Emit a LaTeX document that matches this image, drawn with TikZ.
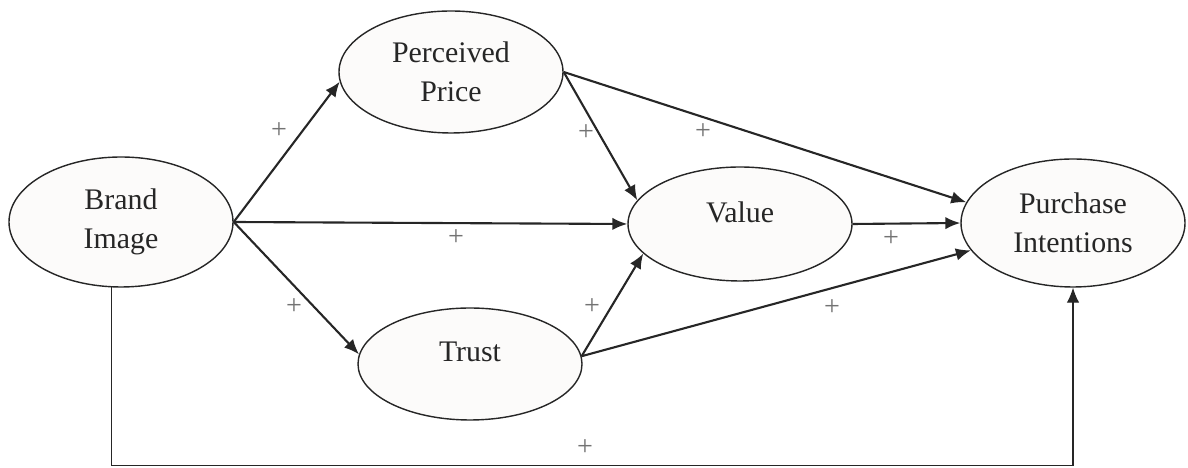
\documentclass[tikz,border=0pt]{standalone}
\usepackage{fontspec}
\setmainfont{Liberation Serif}
\usetikzlibrary{arrows.meta,shapes.geometric}
\definecolor{paper}{HTML}{FCFBFA}
\definecolor{ink}{HTML}{262626}
\tikzset{
  latent/.style={
    ellipse, draw=ink, line width=0.8pt, fill=paper,
    minimum width=4.48cm, inner sep=0pt, align=center, text=ink,
    font=\fontsize{17}{22}\selectfont
  },
  path/.style={->, draw=ink, line width=1.2pt},
  plus/.style={text=black!55, font=\fontsize{16}{16}\selectfont, inner sep=0pt}
}

\begin{document}
\begin{tikzpicture}[>={Latex[length=3mm,width=2.5mm]}]
\useasboundingbox (0,0) rectangle (23.76,9.36);

% --- Constructs ---
\node[latent, minimum height=2.6cm] (brand) at (2.42,4.92) {Brand\\Image};
\node[latent, minimum height=2.44cm] (price) at (9.02,7.92) {Perceived\\Price};
\node[latent, minimum height=2.28cm, label={[yshift=0.24cm, text=ink, font=\fontsize{17}{22}\selectfont]center:Value}] (value) at (14.80,4.88) {};
\node[latent, minimum height=2.56cm] (purchase) at (21.46,4.90) {Purchase\\Intentions};
\node[latent, minimum height=2.24cm, label={[yshift=0.24cm, text=ink, font=\fontsize{17}{22}\selectfont]center:Trust}] (trust) at (9.40,2.08) {};

% --- Paths ---
\draw[path] (brand.east) -- (price.185);
\draw[path] (brand.east) -- (value.west);
\draw[path] (brand.east) -- (trust.175);
\draw[path] (price.east) -- (value.167);
\draw[path] (price.east) -- (purchase.169);
\draw[path] (value.east) -- (purchase.west);
\draw[path] (trust.4) -- (value.197);
\draw[path] (trust.4) -- (purchase.195);

% direct path along the bottom
\coordinate (floor) at (0,0.05);
\draw[->, draw=ink, line width=0.7pt] (brand.262) |- (floor -| purchase.south) -- (purchase.south);

% Signs
\node[plus] (s1) at (5.58,6.74) {+};
\node[plus] (s2) at (11.72,6.70) {+};
\node[plus] (s3) at (14.06,6.72) {+};
\node[plus] (s4) at (9.12,4.60) {+};
\node[plus] (s5) at (17.82,4.58) {+};
\node[plus] (s6) at (5.88,3.22) {+};
\node[plus] (s7) at (11.84,3.22) {+};
\node[plus] (s8) at (16.64,3.20) {+};
\node[plus] (s9) at (11.70,0.40) {+};

\end{tikzpicture}
\end{document}
